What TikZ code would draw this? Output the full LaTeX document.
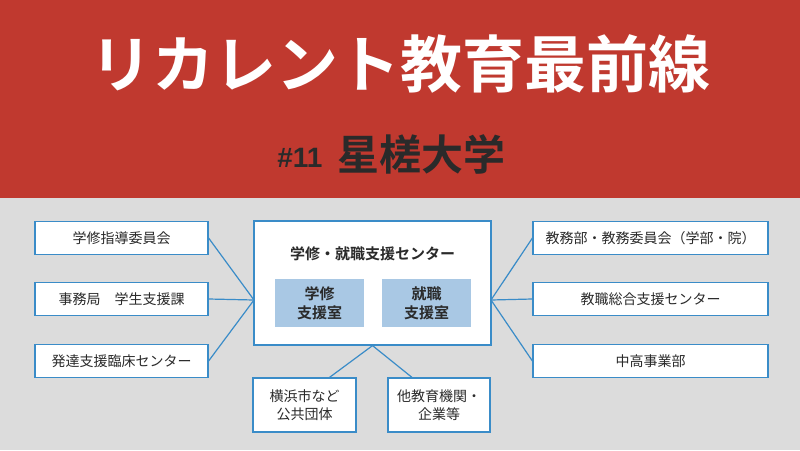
\documentclass[tikz,border=0pt]{standalone}
\usepackage{fontspec}
\setmainfont{Noto Sans CJK JP}
\newfontfamily\cjkbold{Noto Sans CJK JP Bold}
\newfontfamily\latinsans{Liberation Sans}
\definecolor{bandred}{HTML}{C0392F}
\definecolor{bggray}{HTML}{DCDCDC}
\definecolor{linkblue}{HTML}{3A8CC8}
\definecolor{roomblue}{HTML}{A9C8E4}
\definecolor{darktext}{HTML}{2A2A2A}

\tikzset{
  orgbox/.style = {draw=linkblue, line width=1.2pt, fill=white, inner sep=0pt, font=\fontsize{14}{18}\selectfont, text=darktext, align=center},
  roombox/.style = {fill=roomblue, inner sep=0pt, font=\cjkbold\fontsize{15}{19}\selectfont, text=darktext, align=center},
  link/.style = {draw=linkblue, line width=1.2pt}
}

\begin{document}
\begin{tikzpicture}[x=1pt, y=-1pt]
  \useasboundingbox (0,0) rectangle (800,450);
  % background and title band
  \fill[bggray] (0,0) rectangle (800,450);
  \fill[bandred] (0,0) rectangle (800,198);
  \node[text=white, font=\cjkbold\fontsize{62}{64}\selectfont] (title) at (400,64) {リカレント教育最前線};
  \node[text=darktext, font=\cjkbold\fontsize{42}{46}\selectfont, anchor=west] (univ) at (334,154) {星槎大学};
  \node[text=darktext, font=\latinsans\bfseries\fontsize{28}{30}\selectfont, anchor=east] (issue) at (326,158) {\#11};
  % centre
  \node[orgbox, minimum width=237pt, minimum height=124pt] (center) at (372.5,283) {};
  \node[font=\cjkbold\fontsize{15}{18}\selectfont, text=darktext] (centertitle) at (372.5,254) {学修・就職支援センター};
  \node[roombox, minimum width=89pt, minimum height=48pt] (study) at (319.5,303) {学修\\支援室};
  \node[roombox, minimum width=89pt, minimum height=48pt] (career) at (426.5,303) {就職\\支援室};
  \coordinate (hubleft) at (254,300);
  \coordinate (hubright) at (491,300);
  % left side
  \foreach \name/\y/\txt in {l1/238/学修指導委員会, l2/299/事務局\quad 学生支援課, l3/361/発達支援臨床センター} {
    \node[orgbox, minimum width=173pt, minimum height=33pt] (\name) at (121.5,\y) {\txt};
    \draw[link] (\name.east) -- (hubleft);
  }
  % right side
  \foreach \name/\y/\txt in {r1/238/教務部・教務委員会（学部・院）, r2/299/教職総合支援センター, r3/361/中高事業部} {
    \node[orgbox, minimum width=235pt, minimum height=33pt] (\name) at (650.5,\y) {\txt};
    \draw[link] (\name.west) -- (hubright);
  }
  % bottom
  \node[orgbox, minimum width=103pt, minimum height=54pt] (city) at (304.5,405) {横浜市など\\公共団体};
  \node[orgbox, minimum width=102pt, minimum height=54pt] (school) at (439,405) {他教育機関・\\企業等};
  \draw[link] (city.north) ++(25,0) coordinate (cityend) -- (center.south);
  \draw[link] (school.north) ++(-27,0) coordinate (schoolend) -- (center.south);
\end{tikzpicture}
\end{document}
